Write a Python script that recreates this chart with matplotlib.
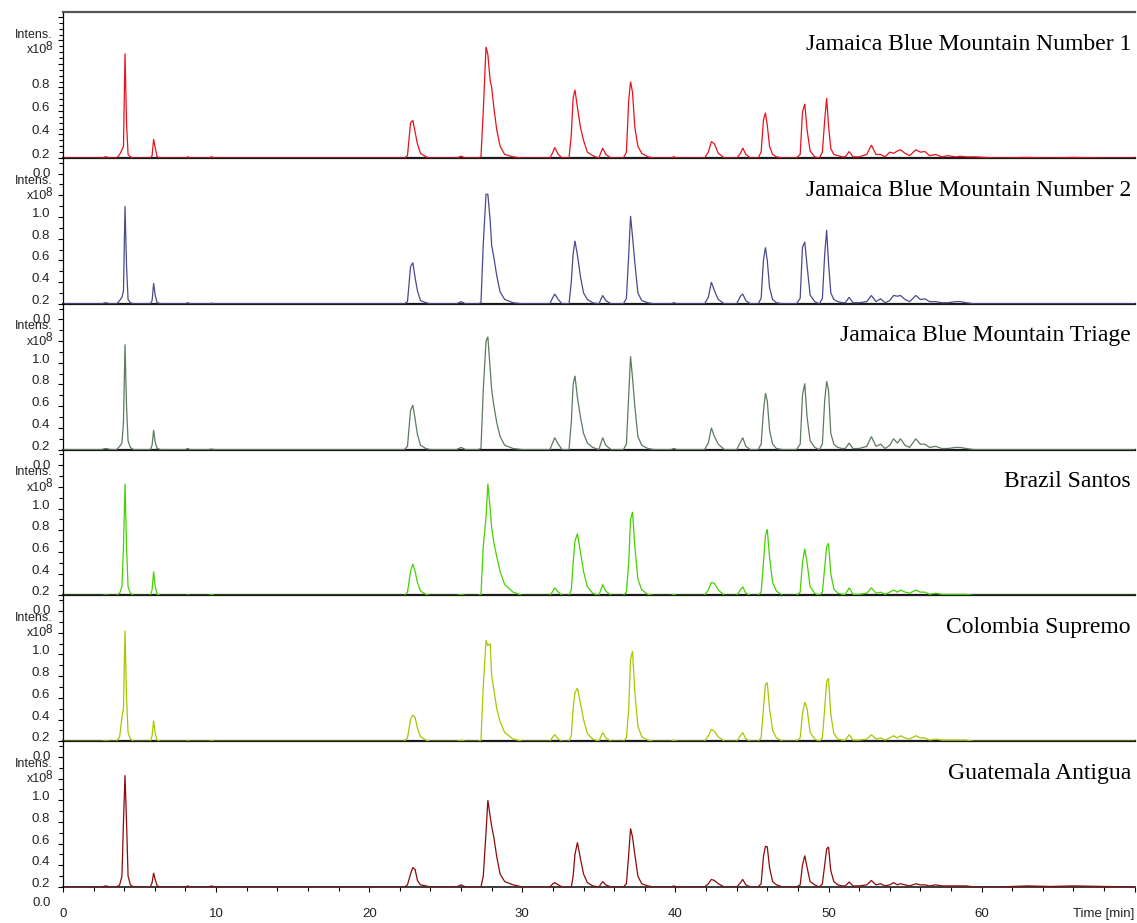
import numpy as np
import matplotlib
matplotlib.use("Agg")
import matplotlib.pyplot as plt
from matplotlib.ticker import FixedLocator, FixedFormatter, MultipleLocator

# ---------------- data (intensity above baseline, x10^8) ----------------
times = [
    0.0, 2.5, 2.8, 3.1,
    3.5, 3.7, 3.85, 3.95, 4.05, 4.15, 4.25, 4.4, 4.6,
    5.7, 5.82, 5.92, 6.02, 6.15, 6.4,
    8.0, 8.15, 8.3, 9.5, 9.7, 9.9,
    21.0,
    22.3, 22.5, 22.7, 22.85, 23.0, 23.15, 23.35, 23.7, 24.0,
    25.7, 26.0, 26.3,
    27.1, 27.3, 27.45, 27.63, 27.75, 27.9, 28.0, 28.15, 28.33, 28.55, 28.85, 29.4, 30.0,
    31.8, 32.0, 32.12, 32.35, 32.6,
    33.05, 33.2, 33.32, 33.44, 33.6, 33.8, 34.0, 34.25, 34.6, 35.0,
    35.25, 35.45, 35.8,
    36.6, 36.8, 36.95, 37.07, 37.2, 37.35, 37.55, 37.8, 38.2, 38.6,
    39.7, 39.9, 40.1,
    41.9, 42.15, 42.35, 42.55, 42.8, 43.2,
    44.0, 44.25, 44.4, 44.6, 44.9,
    45.4, 45.6, 45.75, 45.88, 46.0, 46.15, 46.35, 46.6, 47.0,
    47.9, 48.15, 48.3, 48.45, 48.6, 48.8, 49.1,
    49.4, 49.6, 49.75, 49.88, 50.0, 50.15, 50.35, 50.6, 50.9,
    51.1, 51.35, 51.6, 52.0, 52.5, 52.8, 53.1, 53.4, 53.7, 54.0, 54.25, 54.5, 54.7,
    55.0, 55.3, 55.7, 56.0, 56.3, 56.6, 57.0, 57.4, 57.8, 58.3, 58.6, 59.0, 59.5,
    61.0, 63.0, 64.5, 66.0, 68.0, 70.0,
]

jbm_number1 = [
    0, 0, 0.01, 0,
    0, 0.03, 0.07, 0.10, 0.89, 0.30, 0.03, 0.01, 0,
    0, 0.02, 0.16, 0.09, 0.01, 0,
    0, 0.01, 0, 0, 0.01, 0,
    0,
    0, 0.02, 0.30, 0.32, 0.22, 0.12, 0.04, 0.01, 0,
    0, 0.015, 0,
    0, 0.01, 0.40, 0.945, 0.88, 0.66, 0.60, 0.42, 0.24, 0.10, 0.03, 0.01, 0,
    0, 0.05, 0.09, 0.03, 0,
    0, 0.20, 0.51, 0.58, 0.43, 0.26, 0.15, 0.05, 0.02, 0,
    0.085, 0.03, 0,
    0, 0.05, 0.49, 0.65, 0.56, 0.26, 0.10, 0.04, 0.01, 0,
    0, 0.01, 0,
    0, 0.05, 0.14, 0.12, 0.04, 0,
    0, 0.04, 0.085, 0.03, 0,
    0, 0.05, 0.32, 0.385, 0.28, 0.10, 0.03, 0.01, 0,
    0, 0.03, 0.39, 0.46, 0.24, 0.06, 0.01,
    0, 0.05, 0.32, 0.51, 0.28, 0.08, 0.03, 0.02, 0.01,
    0.01, 0.055, 0.01, 0.01, 0.03, 0.11, 0.03, 0.03, 0.01, 0.05, 0.04, 0.06, 0.07,
    0.04, 0.02, 0.07, 0.05, 0.055, 0.02, 0.03, 0.01, 0.02, 0.01, 0.015, 0.01, 0.01,
    0, 0.005, 0, 0.005, 0, 0,
]

jbm_number2 = [
    0, 0, 0.01, 0,
    0, 0.03, 0.06, 0.12, 0.90, 0.35, 0.04, 0.01, 0,
    0, 0.03, 0.19, 0.08, 0.01, 0,
    0, 0.01, 0, 0, 0.005, 0,
    0,
    0, 0.02, 0.34, 0.38, 0.24, 0.12, 0.03, 0.01, 0,
    0, 0.02, 0,
    0, 0.01, 0.55, 1.01, 1.01, 0.77, 0.54, 0.42, 0.26, 0.11, 0.04, 0.01, 0,
    0, 0.06, 0.09, 0.04, 0,
    0, 0.20, 0.46, 0.58, 0.45, 0.25, 0.10, 0.04, 0.01, 0,
    0.077, 0.03, 0,
    0, 0.05, 0.45, 0.81, 0.62, 0.38, 0.10, 0.03, 0.01, 0,
    0, 0.01, 0,
    0, 0.06, 0.20, 0.12, 0.04, 0,
    0, 0.07, 0.09, 0.03, 0,
    0, 0.05, 0.40, 0.52, 0.40, 0.15, 0.04, 0.01, 0,
    0, 0.05, 0.52, 0.57, 0.35, 0.08, 0.02,
    0, 0.05, 0.45, 0.68, 0.38, 0.10, 0.04, 0.02, 0.01,
    0.01, 0.06, 0.01, 0.01, 0.02, 0.077, 0.02, 0.046, 0.01, 0.03, 0.077, 0.07, 0.077,
    0.04, 0.02, 0.077, 0.04, 0.046, 0.02, 0.02, 0.01, 0.01, 0.02, 0.02, 0.01, 0,
    0, 0, 0, 0, 0, 0,
]

jbm_triage = [
    0, 0, 0.01, 0,
    0, 0.03, 0.06, 0.25, 0.97, 0.40, 0.08, 0.02, 0,
    0, 0.04, 0.18, 0.07, 0.01, 0,
    0, 0.01, 0, 0, 0.005, 0,
    0,
    0, 0.03, 0.36, 0.41, 0.28, 0.14, 0.04, 0.01, 0,
    0, 0.02, 0,
    0, 0.01, 0.55, 1.00, 1.04, 0.75, 0.55, 0.40, 0.25, 0.12, 0.04, 0.01, 0,
    0, 0.07, 0.11, 0.05, 0,
    0, 0.25, 0.60, 0.68, 0.48, 0.30, 0.15, 0.06, 0.02, 0,
    0.11, 0.04, 0,
    0, 0.05, 0.50, 0.86, 0.66, 0.40, 0.12, 0.04, 0.01, 0,
    0, 0.01, 0,
    0, 0.06, 0.20, 0.12, 0.05, 0,
    0, 0.07, 0.11, 0.03, 0,
    0, 0.05, 0.35, 0.52, 0.45, 0.18, 0.05, 0.01, 0,
    0, 0.05, 0.50, 0.61, 0.30, 0.08, 0.02,
    0, 0.05, 0.45, 0.63, 0.55, 0.15, 0.05, 0.02, 0.01,
    0.01, 0.06, 0.01, 0.01, 0.03, 0.12, 0.03, 0.05, 0.01, 0.04, 0.10, 0.06, 0.10,
    0.04, 0.02, 0.10, 0.05, 0.05, 0.02, 0.03, 0.01, 0.01, 0.02, 0.02, 0.01, 0,
    0, 0, 0, 0, 0, 0,
]

brazil_santos = [
    0, 0, 0.005, 0,
    0, 0.02, 0.08, 0.45, 1.03, 0.45, 0.08, 0.02, 0,
    0, 0.05, 0.22, 0.08, 0.01, 0,
    0, 0.005, 0, 0, 0.01, 0,
    0,
    0, 0.03, 0.22, 0.29, 0.22, 0.12, 0.04, 0.01, 0,
    0, 0.01, 0,
    0, 0.01, 0.45, 0.72, 1.03, 0.80, 0.62, 0.48, 0.36, 0.22, 0.10, 0.03, 0,
    0, 0.04, 0.07, 0.03, 0,
    0, 0.05, 0.30, 0.50, 0.57, 0.40, 0.22, 0.08, 0.02, 0,
    0.10, 0.04, 0,
    0, 0.03, 0.30, 0.70, 0.77, 0.45, 0.15, 0.05, 0.01, 0,
    0, 0.01, 0,
    0, 0.05, 0.12, 0.11, 0.05, 0,
    0, 0.05, 0.08, 0.02, 0,
    0, 0.03, 0.30, 0.55, 0.61, 0.35, 0.12, 0.04, 0,
    0, 0.03, 0.30, 0.43, 0.30, 0.08, 0.02,
    0, 0.03, 0.25, 0.45, 0.48, 0.20, 0.06, 0.02, 0.01,
    0.01, 0.07, 0.01, 0.01, 0.02, 0.07, 0.02, 0.03, 0.01, 0.03, 0.05, 0.03, 0.05,
    0.03, 0.02, 0.05, 0.03, 0.03, 0.01, 0.02, 0.01, 0.01, 0.01, 0.01, 0.01, 0,
    0, 0, 0, 0, 0, 0,
]

colombia_supremo = [
    0, 0, 0.005, 0,
    0, 0.04, 0.22, 0.30, 1.02, 0.40, 0.08, 0.02, 0,
    0, 0.05, 0.19, 0.07, 0.01, 0,
    0, 0.005, 0, 0, 0.005, 0,
    0,
    0, 0.03, 0.20, 0.24, 0.22, 0.12, 0.04, 0.01, 0,
    0, 0.01, 0,
    0, 0.01, 0.50, 0.93, 0.88, 0.90, 0.60, 0.47, 0.30, 0.18, 0.08, 0.02, 0,
    0, 0.04, 0.06, 0.02, 0,
    0, 0.05, 0.30, 0.45, 0.49, 0.35, 0.20, 0.07, 0.02, 0,
    0.08, 0.03, 0,
    0, 0.03, 0.30, 0.75, 0.83, 0.45, 0.14, 0.04, 0.01, 0,
    0, 0.01, 0,
    0, 0.05, 0.11, 0.09, 0.04, 0,
    0, 0.05, 0.08, 0.02, 0,
    0, 0.03, 0.30, 0.52, 0.54, 0.30, 0.10, 0.03, 0,
    0, 0.03, 0.25, 0.36, 0.30, 0.08, 0.02,
    0, 0.03, 0.30, 0.55, 0.58, 0.25, 0.07, 0.02, 0.01,
    0.01, 0.06, 0.01, 0.01, 0.02, 0.06, 0.02, 0.03, 0.01, 0.03, 0.05, 0.03, 0.05,
    0.03, 0.02, 0.05, 0.03, 0.03, 0.01, 0.02, 0.01, 0.01, 0.01, 0.01, 0.01, 0,
    0, 0, 0, 0, 0, 0,
]

guatemala_antigua = [
    0, 0, 0.01, 0,
    0, 0.02, 0.10, 0.60, 1.03, 0.60, 0.10, 0.02, 0,
    0, 0.04, 0.13, 0.07, 0.01, 0,
    0, 0.01, 0, 0, 0.01, 0,
    0,
    0, 0.02, 0.12, 0.18, 0.16, 0.06, 0.02, 0.01, 0,
    0, 0.02, 0,
    0, 0.0, 0.10, 0.50, 0.80, 0.65, 0.56, 0.45, 0.28, 0.12, 0.05, 0.02, 0,
    0, 0.03, 0.04, 0.02, 0,
    0, 0.0, 0.10, 0.30, 0.41, 0.26, 0.12, 0.04, 0.01, 0,
    0.05, 0.02, 0,
    0, 0.03, 0.30, 0.54, 0.46, 0.30, 0.10, 0.03, 0.01, 0,
    0, 0.01, 0,
    0, 0.03, 0.07, 0.06, 0.03, 0,
    0, 0.04, 0.07, 0.02, 0,
    0, 0.03, 0.28, 0.375, 0.37, 0.18, 0.05, 0.02, 0,
    0, 0.02, 0.20, 0.29, 0.18, 0.05, 0.02,
    0, 0.03, 0.20, 0.35, 0.37, 0.15, 0.05, 0.02, 0.01,
    0.01, 0.046, 0.01, 0.01, 0.02, 0.06, 0.02, 0.03, 0.01, 0.02, 0.04, 0.02, 0.03,
    0.02, 0.01, 0.03, 0.02, 0.02, 0.01, 0.02, 0.01, 0.01, 0.01, 0.01, 0.01, 0,
    0, 0.01, 0.005, 0.01, 0.005, 0,
]

sample_names = [
    "Jamaica Blue Mountain Number 1",
    "Jamaica Blue Mountain Number 2",
    "Jamaica Blue Mountain Triage",
    "Brazil Santos",
    "Colombia Supremo",
    "Guatemala Antigua",
]
series = [jbm_number1, jbm_number2, jbm_triage, brazil_santos,
          colombia_supremo, guatemala_antigua]
colors = ["#e8121c", "#4a4a8c", "#5e7a60", "#44d200", "#a6c800", "#8c0a0a"]
baseline_value = 0.2
x_tick_values = [0, 10, 20, 30, 40, 50, 60, 70]
x_tick_labels = ["0", "10", "20", "30", "40", "50", "60", "Time [min]"]

# ---------------- layout ----------------
W, H = 1137, 923
fig = plt.figure(figsize=(W / 100, H / 100), dpi=100)
left_px, right_px = 63, 1134.7
panel_h = 145.8
base_px = [158 + panel_h * k for k in range(6)]
px_per_unit = [117.5] + [108.5] * 5
minor_steps = [0.05] + [0.1] * 5
label_max = [0.8] + [1.0] * 5

sans = "Liberation Sans"
serif = "Liberation Serif"


def fx(x):
    return x / W


def fy(y):
    return 1 - y / H


for k in range(6):
    yb = base_px[k]
    top_px = yb - panel_h
    ax = fig.add_axes([fx(left_px), fy(yb), (right_px - left_px) / W, panel_h / H])
    ax.set_facecolor("none")
    top_val = baseline_value + panel_h / px_per_unit[k]
    ax.set_xlim(0, 70)
    ax.set_ylim(baseline_value, top_val)

    y = np.asarray(series[k], dtype=float) + baseline_value
    ax.plot(times, y, color=colors[k], lw=0.9, zorder=4, solid_joinstyle="miter")

    # spines
    ax.spines["right"].set_visible(False)
    ax.spines["top"].set_visible(k == 0)
    ax.spines["top"].set_color("#555555")
    ax.spines["top"].set_linewidth(1.6)
    ax.spines["left"].set_color("black")
    ax.spines["left"].set_linewidth(0.9)
    ax.spines["bottom"].set_color("#1a1a1a")
    ax.spines["bottom"].set_linewidth(1.6 if k < 5 else 1.2)
    ax.spines["bottom"].set_zorder(2)

    # y ticks
    majors = list(np.round(np.arange(baseline_value, top_val + 1e-9, 0.2), 2))
    ax.yaxis.set_major_locator(FixedLocator(majors))
    ax.yaxis.set_major_formatter(FixedFormatter(
        ["%.1f" % v if v <= label_max[k] + 1e-9 else "" for v in majors]))
    ax.yaxis.set_minor_locator(MultipleLocator(minor_steps[k]))
    ax.tick_params(axis="y", which="major", direction="out", length=3.6,
                   width=0.8, pad=5.5, labelsize=9.5, labelcolor="#222222",
                   labelfontfamily=sans)
    ax.tick_params(axis="y", which="minor", direction="out", length=3.0, width=0.8)
    for t in ax.yaxis.get_major_ticks():
        t.label1.set_verticalalignment("baseline")

    # x ticks only on the bottom panel
    if k < 5:
        ax.tick_params(axis="x", which="both", bottom=False, labelbottom=False)
    else:
        ax.xaxis.set_major_locator(FixedLocator(x_tick_values))
        ax.xaxis.set_major_formatter(FixedFormatter(x_tick_labels))
        ax.xaxis.set_minor_locator(MultipleLocator(2))
        ax.tick_params(axis="x", which="major", direction="out", length=3.8,
                       width=0.8, pad=11.5, labelsize=9.5, labelcolor="#222222",
                       labelfontfamily=sans)
        ax.tick_params(axis="x", which="minor", direction="out", length=2.8, width=0.8)
        lbls = ax.get_xticklabels()
        lbls[-1].set_horizontalalignment("right")

    # axis labels "Intens." / "x10^8"
    fig.text(fx(52), fy(top_px + 22.5), "Intens.", ha="right", va="center",
             fontsize=9, family=sans, color="#222222")
    fig.text(fx(47), fy(top_px + 38), "x10", ha="right", va="center",
             fontsize=9, family=sans, color="#222222")
    fig.text(fx(45.5), fy(top_px + 34.5), "8", ha="left", va="center",
             fontsize=8.5, family=sans, color="#222222")

    # "0.0" label below each baseline
    fig.text(fx(50.5), fy(yb + 16), "0.0", ha="right", va="center",
             fontsize=9.5, family=sans, color="#222222")

    # sample title
    fig.text(fx(1131), fy(top_px + 37.5), sample_names[k], ha="right",
             va="baseline", fontsize=17, family=serif, color="black")

fig.savefig("out.png", dpi=100)
